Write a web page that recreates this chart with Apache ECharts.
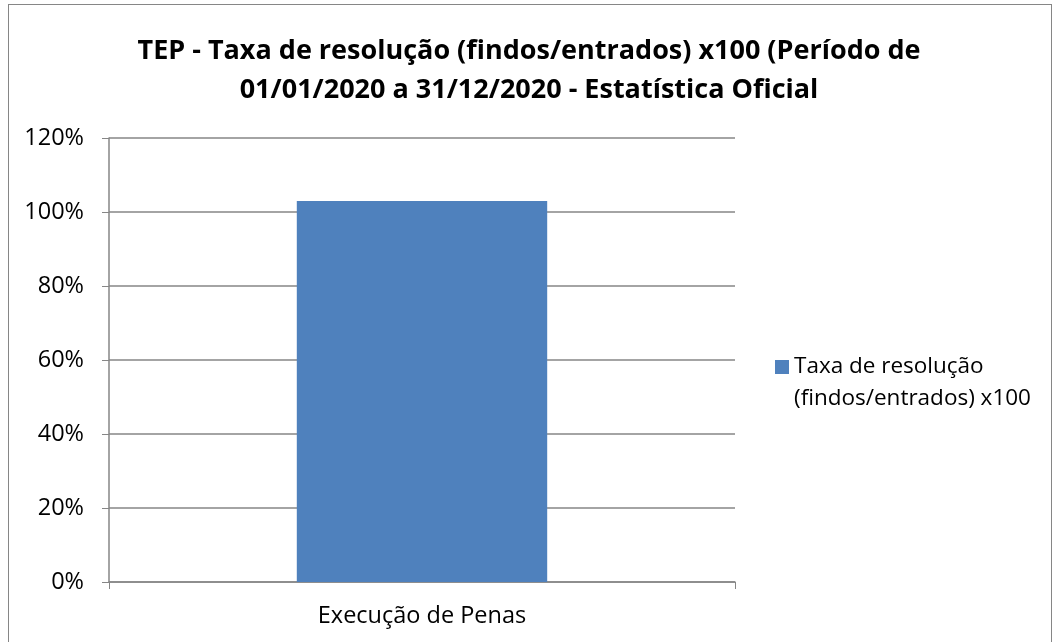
<!DOCTYPE html>
<html>
<head>
<meta charset="utf-8">
<script src="https://cdn.jsdelivr.net/npm/echarts@6/dist/echarts.min.js"></script>
<style>
  html, body { margin: 0; padding: 0; background: #fff; }
  #frame { position: absolute; left: 8px; top: 4px; width: 1044px; height: 660px; border: 1px solid #868686; box-sizing: border-box; }
  #main { position: absolute; left: 0; top: 0; width: 1058px; height: 642px; }
</style>
</head>
<body>
<div id="frame"></div>
<div id="main"></div>
<script>
// dados do gráfico
const categories = ['Execução de Penas'];
const seriesName = 'Taxa de resolução (findos/entrados) x100';
const taxaValues = [103];
const yTicks = [0, 20, 40, 60, 80, 100, 120];

const font = 'Open Sans, Liberation Sans, sans-serif';
let chart = echarts.init(document.getElementById('main'));

let option = {
    animation: false,
    title: {
        text: 'TEP - Taxa de resolução (findos/entrados) x100 (Período de\n01/01/2020 a 31/12/2020 - Estatística Oficial',
        left: 'center',
        top: 27,
        textStyle: {
            fontFamily: font,
            fontSize: 27,
            fontWeight: 'bold',
            color: '#000',
            lineHeight: 39
        }
    },
    legend: {
        left: 770,
        top: 314,
        itemWidth: 14,
        itemHeight: 14,
        itemGap: 6,
        icon: 'rect',
        data: [seriesName],
        // linha vazia antes para alinhar o quadrado com a primeira linha
        formatter: function (name) {
            return '\nTaxa de resolução\n(findos/entrados) x100';
        },
        textStyle: {
            fontFamily: font,
            fontSize: 22.5,
            color: '#000',
            lineHeight: 32
        }
    },
    grid: {
        left: 109,
        right: 323,
        top: 138,
        bottom: 60
    },
    xAxis: {
        type: 'category',
        data: categories,
        axisLine: { lineStyle: { color: '#868686', width: 1.5 } },
        axisTick: { show: true, length: 7, lineStyle: { color: '#868686' } },
        axisLabel: { fontFamily: font, fontSize: 23.5, color: '#000', margin: 22 }
    },
    yAxis: {
        type: 'value',
        min: yTicks[0],
        max: yTicks[yTicks.length - 1],
        interval: 20,
        axisLine: { show: true, lineStyle: { color: '#868686', width: 1.5 } },
        axisTick: { show: true, length: 7, lineStyle: { color: '#868686' } },
        axisLabel: {
            fontFamily: font,
            fontSize: 23.5,
            color: '#000',
            margin: 25,
            formatter: '{value}%'
        },
        splitLine: { lineStyle: { color: '#868686', width: 1.5 } }
    },
    series: [
        {
            name: seriesName,
            type: 'bar',
            data: taxaValues,
            barWidth: '40%',
            itemStyle: { color: '#4F81BD' }
        }
    ]
};
chart.setOption(option);
</script>
</body>
</html>
